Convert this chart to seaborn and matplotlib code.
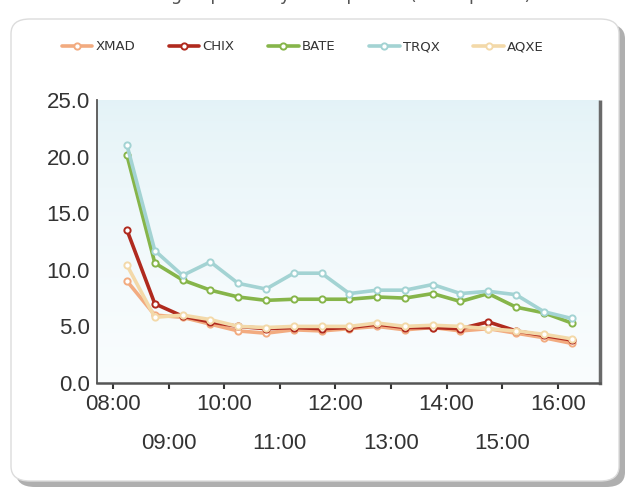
import matplotlib
matplotlib.use("Agg")
import matplotlib.pyplot as plt
import numpy as np
import seaborn as sns
from matplotlib.patches import FancyBboxPatch
from matplotlib.ticker import FixedLocator, FuncFormatter

TIMES = ["08:15", "08:45", "09:15", "09:45", "10:15", "10:45", "11:15", "11:45",
         "12:15", "12:45", "13:15", "13:45", "14:15", "14:45", "15:15", "15:45", "16:15"]

XMAD = [9.0, 6.0, 5.8, 5.2, 4.6, 4.4, 4.7, 4.6, 4.8, 5.0, 4.7, 4.9, 4.6, 4.8, 4.4, 4.0, 3.5]
CHIX = [13.5, 7.0, 5.9, 5.4, 5.0, 4.8, 4.9, 4.8, 4.9, 5.2, 4.9, 4.9, 4.8, 5.4, 4.6, 4.2, 3.8]
BATE = [20.1, 10.6, 9.1, 8.2, 7.6, 7.3, 7.4, 7.4, 7.4, 7.6, 7.5, 7.9, 7.2, 7.9, 6.7, 6.2, 5.3]
TRQX = [21.0, 11.7, 9.5, 10.7, 8.8, 8.3, 9.7, 9.7, 7.9, 8.2, 8.2, 8.7, 7.9, 8.1, 7.8, 6.3, 5.7]
AQXE = [10.4, 5.8, 6.0, 5.6, 5.0, 4.9, 5.0, 5.0, 5.0, 5.3, 5.0, 5.1, 5.0, 4.8, 4.6, 4.3, 3.9]

SERIES = ["XMAD", "CHIX", "BATE", "TRQX", "AQXE"]
VALUES = [XMAD, CHIX, BATE, TRQX, AQXE]
COLORS = ["#f2ab80", "#b02a1e", "#86b54a", "#a3d3d3", "#f3d9a9"]

Y_TICKS = [0, 5, 10, 15, 20, 25]
HOUR_TICKS = list(range(8, 17))

hours = [int(t[:2]) + int(t[3:]) / 60 for t in TIMES]

sns.set_style("white")
plt.rcParams["font.family"] = ["Liberation Sans", "DejaVu Sans"]

W, H = 631, 490
fig = plt.figure(figsize=(W / 100, H / 100), dpi=100)
fig.patch.set_facecolor("white")

# card with shadow
shadow = FancyBboxPatch((16 / W, 3 / H), 609 / W, 463 / H,
                        boxstyle="round,pad=0,rounding_size=0.03",
                        transform=fig.transFigure, facecolor="#7a7a7a",
                        edgecolor="none", alpha=0.6, zorder=0)
card = FancyBboxPatch((11 / W, 9 / H), 608 / W, 462 / H,
                      boxstyle="round,pad=0,rounding_size=0.03",
                      transform=fig.transFigure, facecolor="white",
                      edgecolor="#dcdcdc", lw=1.0, zorder=1)
fig.patches.extend([shadow, card])

# title clipped at the very top, as in the source image
fig.text(0.515, 1 - 0.5 / H, "Average Spread by Time period (basis points)",
         ha="center", va="baseline", fontsize=13, color="#555555",
         family="DejaVu Sans")

ax = fig.add_axes([97 / W, 1 - 383 / H, 503 / W, 283 / H], zorder=2)

# gradient background
grad = np.linspace(0, 1, 256) ** 0.7
top = np.array([0.89, 0.95, 0.968])
bot = np.array([0.98, 0.992, 0.996])
img = top * (1 - grad[:, None]) + bot * grad[:, None]
img = img.reshape(256, 1, 3)
ax.imshow(img, extent=[0, 1, 0, 1], transform=ax.transAxes,
          aspect="auto", zorder=0)

for name, vals, c in zip(SERIES, VALUES, COLORS):
    sns.lineplot(x=hours, y=vals, ax=ax, color=c, lw=3.2, marker="o",
                 markersize=5.5, markerfacecolor="white", markeredgecolor=c,
                 markeredgewidth=1.4, label=name, zorder=3)

ax.set_xlim(7.71, 16.76)
ax.set_ylim(0, 25)
ax.set_yticks(Y_TICKS)
ax.yaxis.set_major_formatter(FuncFormatter(lambda v, p: f"{v:.1f}"))

ax.xaxis.set_major_locator(FixedLocator([h for h in HOUR_TICKS if h % 2 == 0]))
ax.xaxis.set_minor_locator(FixedLocator([h for h in HOUR_TICKS if h % 2 == 1]))
fmt = FuncFormatter(lambda v, p: f"{int(round(v)):02d}:00")
ax.xaxis.set_major_formatter(fmt)
ax.xaxis.set_minor_formatter(fmt)

ax.tick_params(axis="y", which="major", length=0, pad=5, labelsize=16,
               labelcolor="#333333")
ax.tick_params(axis="x", which="major", length=4, width=1.5, color="#333333",
               direction="out", pad=4, labelsize=16, labelcolor="#333333")
ax.tick_params(axis="x", which="minor", length=4, width=1.5, color="#333333",
               direction="out", pad=32, labelsize=16, labelcolor="#333333")
ax.xaxis.set_tick_params(bottom=True, which="both")

ax.spines["top"].set_visible(False)
ax.spines["left"].set_color("#555555")
ax.spines["left"].set_linewidth(1.3)
ax.spines["bottom"].set_color("#555555")
ax.spines["bottom"].set_linewidth(1.8)
ax.spines["right"].set_color("#6a6a6a")
ax.spines["right"].set_linewidth(2.5)
ax.spines["right"].set_linestyle((0, (1, 1)))
ax.set_xlabel("")
ax.set_ylabel("")

handles, labels = ax.get_legend_handles_labels()
for hnd in handles:
    hnd.set_linewidth(2.6)
    hnd.set_markersize(4.5)
ax.legend_.remove()
fig.legend(handles, labels, loc="center", bbox_to_anchor=(0.48, 1 - 47 / H),
           ncol=5, frameon=False, handlelength=2.3,
           columnspacing=2.55, handletextpad=0.25, labelcolor="#333333",
           prop={"family": "DejaVu Sans", "size": 9.5})

fig.savefig("out.png", dpi=100, facecolor="white")
